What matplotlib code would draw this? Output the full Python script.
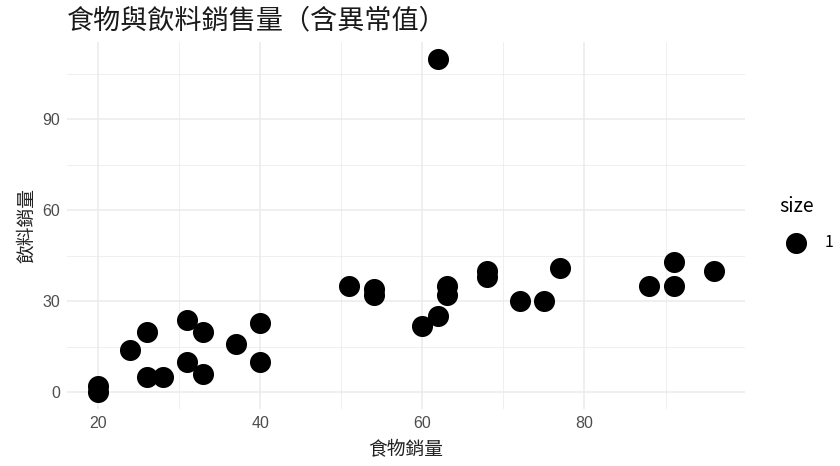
import matplotlib
matplotlib.use("Agg")
import matplotlib.pyplot as plt
from matplotlib.ticker import MultipleLocator

plt.rcParams['font.family'] = ['Noto Sans CJK TC', 'DejaVu Sans']

# food vs drink sales (with outlier)
food = [20, 20, 24, 26, 26, 28, 31, 31, 33, 33, 37, 40, 40,
        51, 54, 54, 60, 62, 62, 63, 63, 68, 68, 72, 75, 77, 88, 91, 91, 96]
drink = [0, 2, 14, 20, 5, 5, 24, 10, 20, 6, 16, 23, 10,
         35, 34, 32, 22, 25, 110, 35, 32, 40, 38, 30, 30, 41, 35, 43, 35, 40]

title = "食物與飲料銷售量（含異常值）"
xlabel = "食物銷量"
ylabel = "飲料銷量"

fig = plt.figure(figsize=(8.4, 4.66), dpi=100)
ax = fig.add_axes([0.0798, 0.1223, 0.8072, 0.7876])

ax.scatter(food, drink, s=230, color="black", linewidths=0, label="1", zorder=3)

ax.set_xlim(16.2, 99.8)
ax.set_ylim(-5.5, 115.5)
ax.xaxis.set_major_locator(MultipleLocator(20))
ax.xaxis.set_minor_locator(MultipleLocator(10))
ax.yaxis.set_major_locator(MultipleLocator(30))
ax.yaxis.set_minor_locator(MultipleLocator(15))
ax.grid(which="major", color="#EBEBEB", linewidth=1.1)
ax.grid(which="minor", color="#EBEBEB", linewidth=0.55)
ax.set_axisbelow(True)
for s in ax.spines.values():
    s.set_visible(False)
ax.tick_params(which="both", length=0)
ax.tick_params(axis="both", labelsize=11.5, labelcolor="#4D4D4D", pad=5)
for lab in ax.get_xticklabels() + ax.get_yticklabels():
    lab.set_family(["Liberation Sans", "DejaVu Sans"])

ax.set_xlabel(xlabel, fontsize=13.5, color="#222222", labelpad=6)
ax.set_ylabel(ylabel, fontsize=13.5, color="#222222", labelpad=4)
fig.text(0.0798, 0.955, title, fontsize=19.5, color="#1a1a1a", va="center", ha="left")

leg = ax.legend(title="size", loc="center left", bbox_to_anchor=(0.915, 0.52),
                bbox_transform=fig.transFigure, frameon=False, fontsize=11.5,
                title_fontsize=14, markerscale=1.0, handletextpad=0.8,
                borderpad=0.2, labelspacing=0.8)
leg._legend_box.align = "left"
leg._legend_box.sep = 12

fig.savefig("out.png", dpi=100)
